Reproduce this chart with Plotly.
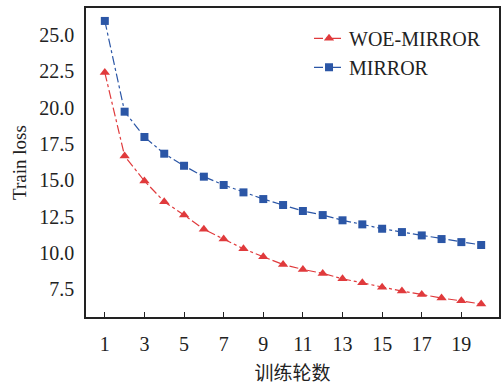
import plotly.graph_objects as go

epochs = list(range(1, 21))
woe_mirror = [22.41, 16.67, 14.95, 13.53, 12.61, 11.63, 10.96, 10.29, 9.74, 9.21,
              8.87, 8.60, 8.23, 7.95, 7.65, 7.38, 7.15, 6.90, 6.71, 6.49]
mirror = [25.96, 19.72, 17.98, 16.83, 16.00, 15.25, 14.68, 14.17, 13.71, 13.30,
          12.89, 12.61, 12.25, 11.97, 11.67, 11.44, 11.21, 10.96, 10.75, 10.55]
x_ticks = list(range(1, 20, 2))
y_ticks = [7.5, 10.0, 12.5, 15.0, 17.5, 20.0, 22.5, 25.0]

serif = "Liberation Serif, Times New Roman, serif"
red = "#e03a3c"
blue = "#2b56a6"

fig = go.Figure()
fig.add_trace(go.Scatter(x=epochs, y=woe_mirror, name="WOE-MIRROR", mode="lines+markers",
                         line=dict(color=red, width=1.2, dash="dashdot"),
                         marker=dict(symbol="triangle-up", size=9, color=red)))
fig.add_trace(go.Scatter(x=epochs, y=mirror, name="MIRROR", mode="lines+markers",
                         line=dict(color=blue, width=1.2, dash="dashdot"),
                         marker=dict(symbol="square", size=8, color=blue)))

fig.update_layout(
    width=502, height=385,
    margin=dict(l=86, r=1, t=8, b=68),
    paper_bgcolor="white", plot_bgcolor="white",
    font=dict(family=serif, size=20, color="#222"),
    showlegend=True,
    legend=dict(x=0.54, y=0.965, xanchor="left", yanchor="top",
                bgcolor="rgba(0,0,0,0)", font=dict(family=serif, size=20),
                tracegroupgap=0, itemwidth=30),
    xaxis=dict(range=[0.05, 20.9], tickvals=x_ticks, ticks="inside", ticklen=5,
               tickcolor="#222", showgrid=False, zeroline=False,
               showline=True, linecolor="#222", linewidth=1.5, mirror=True,
               ticklabelstandoff=8,
               title=dict(text="训练轮数", font=dict(family="Noto Sans CJK SC", size=19),
                          standoff=14)),
    yaxis=dict(range=[5.6, 26.85], tickvals=y_ticks, tickformat=".1f", ticks="",
               showgrid=False, zeroline=False,
               showline=True, linecolor="#222", linewidth=1.5, mirror=True,
               ticklabelstandoff=6,
               title=dict(text="Train loss", font=dict(family=serif, size=19), standoff=8)),
)

fig.write_html("out.html")
